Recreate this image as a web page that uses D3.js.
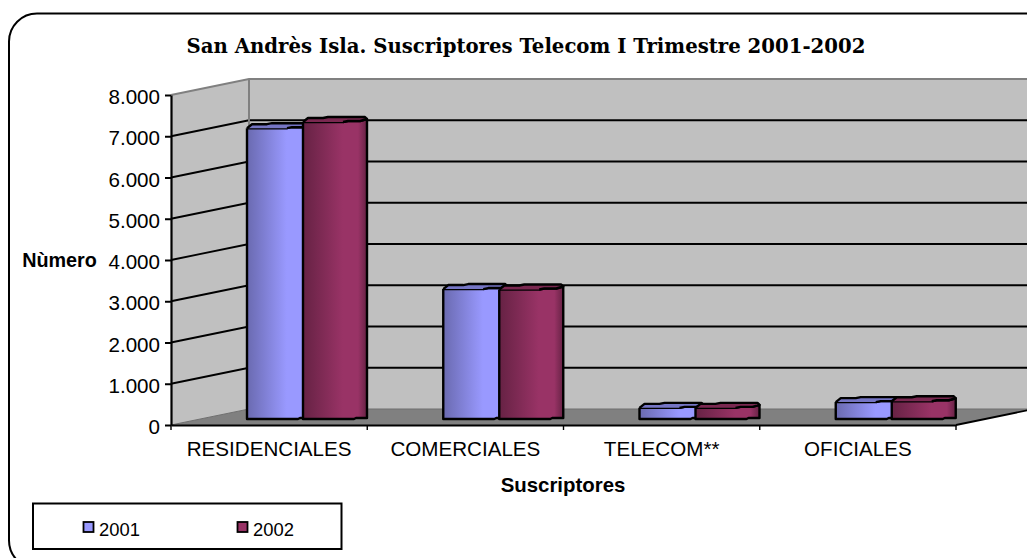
<!DOCTYPE html>
<html>
<head>
<meta charset="utf-8">
<script src="https://cdn.jsdelivr.net/npm/d3@7"></script>
<style>
  html, body { margin: 0; padding: 0; background: #fff; overflow: hidden; }
  svg { display: block; }
  text { font-family: "Liberation Sans", Arial, sans-serif; fill: #000; }
  .domain { stroke: #000; stroke-width: 2.2; }
  .tick line { stroke: #000; stroke-width: 2; }
</style>
</head>
<body>
<div id="chart"></div>
<script>
var categories = ['RESIDENCIALES', 'COMERCIALES', 'TELECOM**', 'OFICIALES'];
var seriesNames = ['2001', '2002'];
var values2001 = [7050, 3150, 270, 410];
var values2002 = [7200, 3140, 270, 430];
var yTicks = [0, 1000, 2000, 3000, 4000, 5000, 6000, 7000, 8000];

var W = 1027, H = 558;
var depthX = 78, depthY = -16;   // back wall offset
var barDepth = 6;                // bars sit this far up the floor

var svg = d3.select('#chart').append('svg').attr('width', W).attr('height', H);
var defs = svg.append('defs');

function gradient(id, dark, light) {
  var g = defs.append('linearGradient').attr('id', id);
  g.append('stop').attr('offset', '0%').attr('stop-color', dark);
  g.append('stop').attr('offset', '62%').attr('stop-color', light);
  g.append('stop').attr('offset', '86%').attr('stop-color', light);
  g.append('stop').attr('offset', '100%').attr('stop-color', dark);
}
gradient('grad2001', '#6a6ab0', '#9999ff');
gradient('grad2002', '#662244', '#993366');

var x = d3.scaleBand().domain(categories).range([171, 956]);
var y = d3.scaleLinear().domain([0, 8000]).range([425, 95]);
var fmt = d3.formatLocale({ decimal: ',', thousands: '.', grouping: [3], currency: ['', ''] }).format(',d');

// outer frame runs past the right and bottom of the picture
svg.append('rect')
  .attr('x', 9).attr('y', 13.5)
  .attr('width', 1060).attr('height', 555)
  .attr('rx', 28).attr('ry', 28)
  .attr('fill', '#fff').attr('stroke', '#000').attr('stroke-width', 2);

svg.append('text')
  .attr('x', 526).attr('y', 52.5)
  .attr('text-anchor', 'middle')
  .style('font-family', '"DejaVu Serif", serif')
  .style('font-weight', 'bold')
  .style('font-size', '19.7px')
  .text('San Andrès Isla. Suscriptores Telecom I Trimestre 2001-2002');

// walls and floor
var x0 = x.range()[0], x1 = x.range()[1];
var wall = svg.append('g');
wall.append('rect')
  .attr('x', x0 + depthX).attr('y', y(8000) + depthY)
  .attr('width', x1 - x0 + 10).attr('height', y(0) - y(8000))
  .attr('fill', '#c0c0c0');
wall.append('path')
  .attr('d', d3.line()([[x0, y(0)], [x0, y(8000)], [x0 + depthX, y(8000) + depthY], [x0 + depthX, y(0) + depthY]]))
  .attr('fill', '#c0c0c0');
wall.append('path')
  .attr('d', d3.line()([[x0, y(0)], [x0 + depthX, y(0) + depthY], [x1 + depthX, y(0) + depthY], [x1, y(0)]]))
  .attr('fill', '#808080');

// gridlines along side wall and back wall
wall.selectAll('.grid').data(yTicks).join('path')
  .attr('class', 'grid')
  .attr('fill', 'none')
  .attr('stroke', function(d) { return d === 8000 ? '#808080' : d === 0 ? '#6f6f6f' : '#000'; })
  .attr('stroke-width', function(d) { return d === 0 ? 1 : 1.8; })
  .attr('d', function(d) {
    return d3.line()([[x0, y(d)], [x0 + depthX, y(d) + depthY], [W + 5, y(d) + depthY]]);
  });
wall.append('line')
  .attr('x1', x0 + depthX).attr('x2', x0 + depthX)
  .attr('y1', y(8000) + depthY).attr('y2', y(0) + depthY)
  .attr('stroke', '#808080').attr('stroke-width', 2);
wall.append('line')
  .attr('x1', x1).attr('y1', y(0))
  .attr('x2', x1 + depthX).attr('y2', y(0) + depthY)
  .attr('stroke', '#000').attr('stroke-width', 1.8);

// bars
var barOffset = 76, barStep = 56, barWidth = 64, topH = 5;
var bars = svg.append('g').attr('stroke-linejoin', 'round');

function drawBar(left, top, bottom, fillId, topFill) {
  var r = left + barWidth;
  var g = bars.append('g');
  // body with the little notch in the front edge
  g.append('path')
    .attr('d', d3.line()([
      [left, top], [r - 24, top], [r - 19, top - 1], [r - 7, top - 1], [r, top - 3],
      [r, bottom - 1], [r - 11, bottom - 1], [r - 13, bottom], [left, bottom], [left, top]
    ]))
    .attr('fill', 'url(#' + fillId + ')')
    .attr('stroke', '#000').attr('stroke-width', 2.4);
  // top face
  g.append('path')
    .attr('d', d3.line()([
      [left, top], [left + 5, top - topH + 1], [left + 20, top - topH + 1], [left + 25, top - topH],
      [r - 2, top - topH], [r, top - 3], [r - 7, top - 1], [r - 19, top - 1], [r - 24, top]
    ]))
    .attr('fill', topFill)
    .attr('stroke', '#000').attr('stroke-width', 2.4);
}

categories.forEach(function(c, i) {
  var bx = x(c) + barOffset;
  drawBar(bx, y(values2001[i]) - barDepth, y(0) - barDepth, 'grad2001', '#7575c4');
  drawBar(bx + barStep, y(values2002[i]) - barDepth, y(0) - barDepth, 'grad2002', '#7a2850');
});

// axes
var yAxis = d3.axisLeft(y).tickValues(yTicks).tickFormat(fmt).tickSize(6).tickSizeOuter(0).tickPadding(5);
var gy = svg.append('g').attr('transform', 'translate(' + x0 + ',0)').call(yAxis);
gy.selectAll('text').attr('y', 2).style('font-size', '20.6px');

var xAxis = d3.axisBottom(x).tickSize(0).tickSizeOuter(0).tickPadding(0);
var gx = svg.append('g').attr('transform', 'translate(0,' + y(0) + ')').call(xAxis);
gx.selectAll('text').attr('y', 16.5).style('font-size', '20.6px');
gx.selectAll('.sep').data(d3.range(categories.length + 1)).join('line')
  .attr('class', 'sep')
  .attr('x1', function(i) { return x0 + i * x.step(); })
  .attr('x2', function(i) { return x0 + i * x.step(); })
  .attr('y1', 0).attr('y2', 5)
  .attr('stroke', '#000').attr('stroke-width', 1.4);

// axis titles
svg.append('text').attr('x', 59.5).attr('y', 267).attr('text-anchor', 'middle')
  .style('font-weight', 'bold').style('font-size', '19.8px').text('Nùmero');
svg.append('text').attr('x', 563).attr('y', 491.5).attr('text-anchor', 'middle')
  .style('font-weight', 'bold').style('font-size', '20.4px').text('Suscriptores');

// legend
var legend = svg.append('g');
legend.append('rect')
  .attr('x', 33).attr('y', 503.5).attr('width', 308.5).attr('height', 45.5)
  .attr('fill', '#fff').attr('stroke', '#000').attr('stroke-width', 2);
var legendColors = ['#9999ff', '#993366'];
seriesNames.forEach(function(s, i) {
  var lx = 83 + i * 154;
  legend.append('rect').attr('x', lx + 0.5).attr('y', 522).attr('width', 10).attr('height', 10)
    .attr('fill', legendColors[i]).attr('stroke', '#000').attr('stroke-width', 1.8);
  legend.append('text').attr('x', lx + 16).attr('y', 536).style('font-size', '18.4px').text(s);
});
</script>
</body>
</html>
